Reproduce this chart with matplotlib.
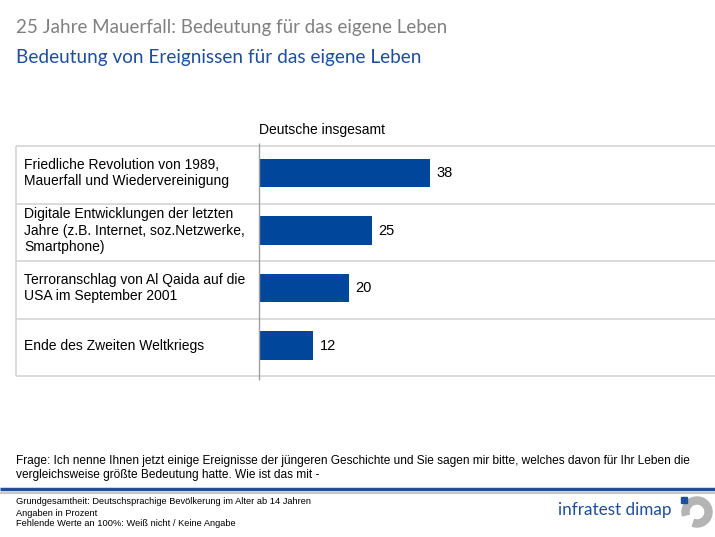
import matplotlib
matplotlib.use("Agg")
import matplotlib.pyplot as plt
from matplotlib.patches import Wedge, Rectangle

# data
categories = [
    "Friedliche Revolution von 1989,\nMauerfall und Wiedervereinigung",
    "Digitale Entwicklungen der letzten\nJahre (z.B. Internet, soz.Netzwerke,\nSmartphone)",
    "Terroranschlag von Al Qaida auf die\nUSA im September 2001",
    "Ende des Zweiten Weltkriegs",
]
values = [38, 25, 20, 12]
series_name = "Deutsche insgesamt"

title1 = "25 Jahre Mauerfall: Bedeutung für das eigene Leben"
title2 = "Bedeutung von Ereignissen für das eigene Leben"
question = ("Frage: Ich nenne Ihnen jetzt einige Ereignisse der jüngeren Geschichte und Sie sagen mir bitte, welches davon für Ihr Leben die\n"
            "vergleichsweise größte Bedeutung hatte. Wie ist das mit -")
notes = ["Grundgesamtheit: Deutschsprachige Bevölkerung im Alter ab 14 Jahren",
         "Angaben in Prozent",
         "Fehlende Werte an 100%: Weiß nicht / Keine Angabe"]

W, H = 715, 537
blue = "#00469b"
grid = "#d4d4d4"
body = ["Liberation Sans", "DejaVu Sans"]
head = ["Lato", "DejaVu Sans"]

fig = plt.figure(figsize=(W / 100, H / 100), dpi=100)
bg = fig.add_axes([0, 0, 1, 1])
bg.set_xlim(0, W)
bg.set_ylim(H, 0)
bg.axis("off")

bg.text(16, 28, title1, fontsize=13.5, color="#808080", family=head, va="center")
bg.text(16, 58, title2, fontsize=13.65, color="#1f4e9c", family=head, va="center")

# bar area (pixel layout of the table)
left, right, top, bottom = 259, 715, 146, 376
scale = 4.5  # px per percent
ax = fig.add_axes([left / W, 1 - bottom / H, (right - left) / W, (bottom - top) / H])
ax.set_xlim(0, (right - left) / scale)
ax.set_ylim(len(values), 0)
ax.axis("off")

ypos = [i + 0.47 for i in range(len(values))]
ax.barh(ypos, values, height=0.49, color=blue, zorder=3)
for y, v in zip(ypos, values):
    ax.text(v + 1.5, y, str(v), va="center", ha="left", fontsize=10.5, family=body)

xl = (16 - left) / scale
for y, c in zip(ypos, categories):
    ax.text((24 - left) / scale, y, c, va="center", ha="left", fontsize=10,
            family=body, linespacing=1.2)
for y in range(len(values) + 1):
    ax.hlines(y, xl, ax.get_xlim()[1], color=grid, lw=1.2, clip_on=False)
ax.vlines(xl, 0, len(values), color=grid, lw=1.2, clip_on=False)
ax.vlines(0, -0.05, len(values) + 0.07, color="#a0a0a0", lw=1.0, clip_on=False, zorder=4)
ax.text(0, -0.28, series_name, fontsize=10, family=body, va="center", ha="left")

# footer
bg.text(16, 468, question, fontsize=8.55, family=body, va="center", linespacing=1.3)
bg.hlines(489, 0, W, color="#1f4e9c", lw=2.5)
bg.hlines(492.5, 0, W, color="#c8c8c8", lw=1.5)
for i, n in enumerate(notes):
    bg.text(16, 502 + i * 11, n, fontsize=6.7, family=body, va="center")

bg.text(672, 510, "infratest dimap", fontsize=12.3, color="#1f4e9c", family=head,
        va="center", ha="right")
bg.add_patch(Wedge((697, 512), 15, 165, 108, width=7, color="#b4b4b4"))
bg.add_patch(Rectangle((681, 497), 6, 6, color="#1f4e9c"))

fig.savefig("out.png", dpi=100)
